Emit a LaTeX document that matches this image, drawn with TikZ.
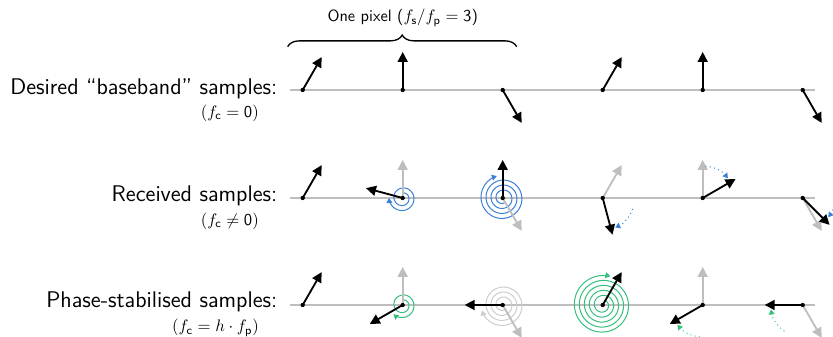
\documentclass[tikz,border=0pt]{standalone}
\usepackage{amsmath}
\usetikzlibrary{arrows.meta, decorations.pathreplacing}
\definecolor{SpinBlue}{HTML}{3B7FD6}
\definecolor{LockGreen}{HTML}{34BF7D}
\definecolor{Ghost}{HTML}{BEBEBE}
\definecolor{GhostRing}{HTML}{CDCDCD}

\begin{document}
\begin{tikzpicture}[x=60pt, y=60pt,
    axis/.style={Ghost, line width=0.8pt},
    phasor/.style={-{Triangle[length=6pt, width=6pt]}, line width=1.1pt},
    ghostphasor/.style={phasor, Ghost},
    spin/.style={-{Triangle[length=3pt, width=3.5pt]}, line width=0.6pt},
    drift/.style={spin, dotted},
    rowlabel/.style={anchor=east, font=\sffamily\fontsize{13.6}{16}\selectfont},
    sublabel/.style={anchor=east, font=\sffamily\normalsize}]

  \useasboundingbox (-3.027,0.90) rectangle (5.303,-2.47);
  \clip (-3.027,0.90) rectangle (5.303,-2.47);

  % One pixel = three samples
  \draw[decorate, decoration={brace, amplitude=7pt}, line width=0.8pt]
    (-0.15,0.433) -- (2.14,0.433);
  \node[font=\sffamily\fontsize{9.8}{12}\selectfont] (pixel) at (1.0,0.72)
    {One pixel ($f_{\mathsf{s}}/f_{\mathsf{p}} = \mathsf{3}$)};

  % Row labels
  \node[rowlabel] (desired) at (-0.195,0.01) {Desired ``baseband'' samples:};
  \node[sublabel] (desiredf) at (-0.38,-0.23) {$(f_{\mathsf{c}} = \mathsf{0})$};
  \node[rowlabel] (received) at (-0.195,-1.06) {Received samples:};
  \node[sublabel] (receivedf) at (-0.38,-1.31) {$(f_{\mathsf{c}} \neq \mathsf{0})$};
  \node[rowlabel] (stable) at (-0.195,-2.12) {Phase-stabilised samples:};
  \node[sublabel] (stablef) at (-0.38,-2.38) {$(f_{\mathsf{c}} = h \cdot f_{\mathsf{p}})$};

  % Desired baseband samples
  \draw[axis] (-0.13,0) -- (5.12,0);
  \foreach \n/\a in {0/60, 1/90, 2/-60, 3/60, 4/90, 5/-60}
    \draw[phasor] (\n,0) -- ++(\a:0.38);
  \foreach \n in {0,...,5}
    \fill (\n,0) circle (1.3pt);

  % Received samples (645 deg clockwise per sample)
  \draw[axis] (-0.13,-1.08) -- (5.12,-1.08);
  \draw[spin, SpinBlue, shift={(1,-1.08)}]
    plot[domain=0:630, samples=120, smooth] ({90-\x}:{0.05+\x/7200});
  \draw[spin, SpinBlue, shift={(2,-1.08)}]
    plot[domain=0:1275, samples=240, smooth] ({-60-\x}:{0.05+\x/7200});
  \foreach \n/\a in {1/90, 2/-60, 3/60, 4/90, 5/-60}
    \draw[ghostphasor] (\n,-1.08) -- ++(\a:0.38);
  \foreach \n/\s/\e in {3/-20/-67, 4/85/38, 5/10/-37}
    \draw[drift, SpinBlue] ([shift={(\s:0.32)}]\n,-1.08)
      arc[start angle=\s, end angle=\e, radius=0.32];
  \foreach \n/\a in {0/60, 1/165, 2/90, 3/-75, 4/30, 5/-45}
    \draw[phasor] (\n,-1.08) -- ++(\a:0.38);
  \foreach \n in {0,...,5}
    \fill (\n,-1.08) circle (1.3pt);

  % Phase-stabilised samples (600 deg clockwise per sample)
  \draw[axis] (-0.13,-2.15) -- (5.12,-2.15);
  \draw[spin, LockGreen, shift={(1,-2.15)}]
    plot[domain=0:585, samples=120, smooth] ({90-\x}:{0.05+\x/7200});
  \draw[spin, GhostRing, shift={(2,-2.15)}]
    plot[domain=0:1185, samples=240, smooth] ({-60-\x}:{0.05+\x/7200});
  \draw[spin, LockGreen, shift={(3,-2.15)}]
    plot[domain=0:1785, samples=340, smooth] ({60-\x}:{0.05+\x/7200});
  \foreach \n/\a in {1/90, 2/-60, 4/90, 5/-60}
    \draw[ghostphasor] (\n,-2.15) -- ++(\a:0.38);
  \foreach \n/\s/\e in {4/265/218, 5/235/188}
    \draw[drift, LockGreen] ([shift={(\s:0.32)}]\n,-2.15)
      arc[start angle=\s, end angle=\e, radius=0.32];
  \foreach \n/\a in {0/60, 1/210, 2/180, 3/60, 4/210, 5/180}
    \draw[phasor] (\n,-2.15) -- ++(\a:0.38);
  \foreach \n in {0,...,5}
    \fill (\n,-2.15) circle (1.3pt);
\end{tikzpicture}
\end{document}
